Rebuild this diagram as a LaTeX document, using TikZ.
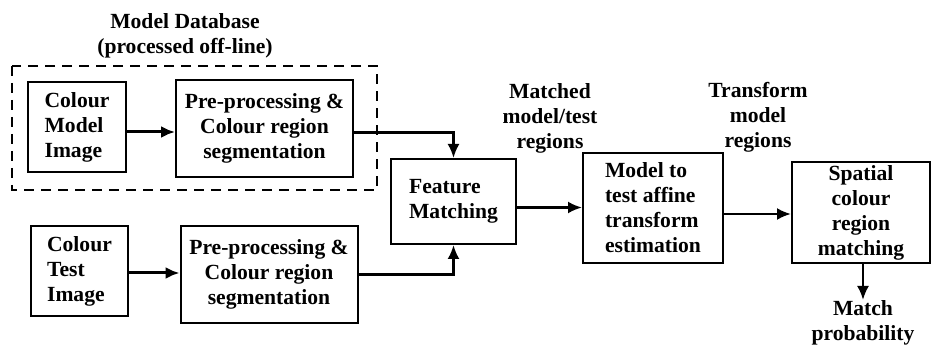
\documentclass[tikz,border=0pt]{standalone}
\usepackage{fontspec}
\setmainfont{Liberation Serif}
\usetikzlibrary{arrows.meta,calc}
\tikzset{
	blk/.style={draw, line width=1pt, inner sep=0pt, font=\bfseries\fontsize{10.8}{12.5}\selectfont},
	txt/.style={align=center, inner sep=0pt, font=\bfseries\fontsize{10.8}{12.5}\selectfont},
	arr/.style={-{Latex[length=7pt,width=6pt]}, line width=1.2pt},
}
\begin{document}
\begin{tikzpicture}[x=0.5pt,y=-0.5pt]
\useasboundingbox (0,0) rectangle (932,347);
% model database
\draw[line width=0.8pt, dash pattern=on 5pt off 3.5pt] (12,66) rectangle (377,190);
\node[txt] (mdb) at (185,36) {Model Database\\(processed off-line)};
\node[blk, align=left, minimum width=49pt, minimum height=45pt] (cmi) at (77,127) {Colour\\Model\\Image};
\node[blk, align=center, minimum width=88.5pt, minimum height=48.5pt] (pre1) at (264.5,128.5) {Pre-processing \&\\Colour region\\segmentation};
% test image
\node[blk, align=left, minimum width=48.5pt, minimum height=45pt] (cti) at (79.5,271) {Colour\\Test\\Image};
\node[blk, align=center, minimum width=88.5pt, minimum height=48.5pt] (pre2) at (269,274.5) {Pre-processing \&\\Colour region\\segmentation};
% matching chain
\node[blk, align=left, minimum width=62.5pt, minimum height=42.5pt] (feat) at (453.5,201.5) {Feature\\Matching};
\node[blk, align=left, minimum width=70pt, minimum height=55pt] (aff) at (653,208) {Model to\\test affine\\transform\\estimation};
\node[blk, align=center, minimum width=69pt, minimum height=50.5pt] (spat) at (861,212.5) {Spatial\\colour\\region\\matching};
\node[txt] (mtr) at (550,118) {Matched\\model/test\\regions};
\node[txt] (tmr) at (758,117) {Transform\\model\\regions};
\node[txt, anchor=north] (mp) at (863,300) {Match\\probability};
% connectors
\draw[arr, line width=1.5pt] ($(cmi.east)+(0,5)$) -- ($(cmi.east -| pre1.west)+(0,5)$);
\draw[arr, line width=1.5pt] ($(cti.east)+(0,2)$) -- ($(cti.east -| pre2.west)+(0,2)$);
\draw[arr] ($(pre1.east)+(0,4)$) -| (feat.north);
\draw[arr] (pre2.east) -| (feat.south);
\draw[arr] ($(feat.east)+(0,6)$) -- ($(feat.east -| aff.west)+(0,6)$);
\draw[arr] ($(aff.east)+(0,6)$) -- ($(aff.east -| spat.west)+(0,6)$);
\draw[arr] (spat.south -| mp.north) -- (mp.north);
\end{tikzpicture}
\end{document}
